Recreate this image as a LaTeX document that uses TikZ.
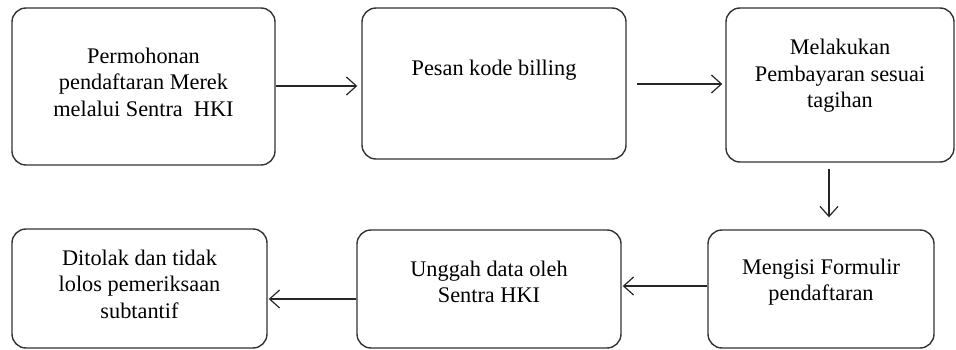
\documentclass[tikz,border=0pt]{standalone}
\usepackage{fontspec}
\setmainfont{Liberation Serif}
\usetikzlibrary{arrows.meta}
\begin{document}
\begin{tikzpicture}[x=1pt,y=-1pt,
  box/.style={draw=black!80, line width=1.4pt, rounded corners=14pt, inner sep=0pt},
  txt/.style={align=center, font=\fontsize{22.3}{26.5}\selectfont, inner sep=0pt},
  arr/.style={draw=black!85, line width=1.2pt, -{Straight Barb[length=10pt,width=18pt,line width=1.2pt]}}]
\useasboundingbox (0,0) rectangle (956,350);
% boxes
\node[box, minimum width=263pt, minimum height=157pt] (b1) at (143.5,86.5) {};
\node[box, minimum width=264pt, minimum height=151pt] (b2) at (494,83.5) {};
\node[box, minimum width=228pt, minimum height=154pt] (b3) at (840,85) {};
\node[box, minimum width=255pt, minimum height=119pt] (b4) at (139.5,288.5) {};
\node[box, minimum width=264pt, minimum height=118pt] (b5) at (489,289) {};
\node[box, minimum width=226pt, minimum height=118pt] (b6) at (821,289) {};
% texts
\node[txt] (t1) at (143.5,82) {Permohonan\\pendaftaran Merek\\melalui Sentra\ \ HKI};
\node[txt] (t2) at (494,70) {Pesan kode billing};
\node[txt] (t3) at (840,76) {Melakukan\\Pembayaran sesuai\\tagihan};
\node[txt] (t4) at (139.5,284) {Ditolak dan tidak\\lolos pemeriksaan\\subtantif};
\node[txt] (t5) at (489,282) {Unggah data oleh\\Sentra HKI};
\node[txt] (t6) at (821,282) {Mengisi Formulir\\pendaftaran};
% connectors
\draw[arr, shorten >=4pt] (b1.east |- 0,86) -- (b2.west |- 0,86);
\draw[arr, shorten <=10pt, shorten >=3pt] (b2.east |- 0,84) -- (b3.west |- 0,84);
\coordinate (c3) at (829,0);
\draw[arr, shorten <=6pt, shorten >=12pt] (b3.south -| c3) -- (b6.north -| c3);
\draw[arr, shorten >=1pt] (b6.west |- 0,286) -- (b5.east |- 0,286);
\draw[arr, shorten >=1pt] (b5.west |- 0,299) -- (b4.east |- 0,299);
\end{tikzpicture}
\end{document}
